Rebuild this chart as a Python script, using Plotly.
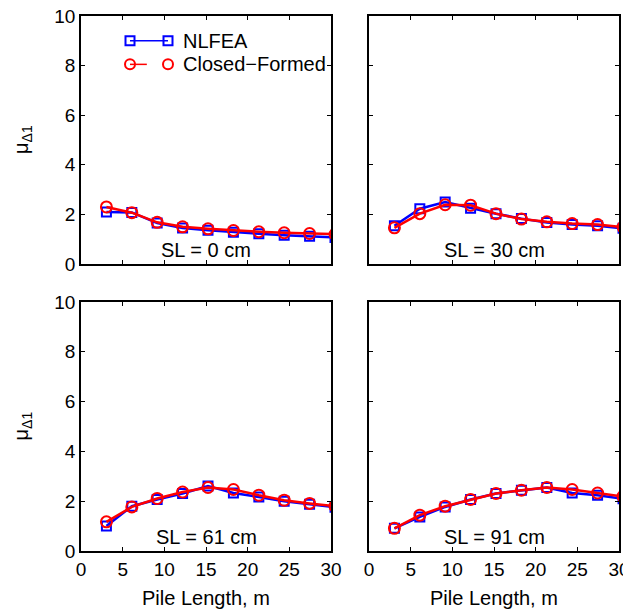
import plotly.graph_objects as go

pile_length = [3.05, 6.10, 9.14, 12.19, 15.24, 18.29, 21.34, 24.38, 27.43, 30.48]
panels = ["SL = 0 cm", "SL = 30 cm", "SL = 61 cm", "SL = 91 cm"]
nlfea = [
    [2.10, 2.08, 1.65, 1.45, 1.36, 1.28, 1.22, 1.16, 1.12, 1.07],
    [1.54, 2.23, 2.50, 2.25, 2.03, 1.83, 1.67, 1.59, 1.54, 1.44],
    [1.00, 1.80, 2.07, 2.31, 2.61, 2.33, 2.17, 2.00, 1.88, 1.76],
    [0.91, 1.37, 1.77, 2.07, 2.31, 2.44, 2.55, 2.33, 2.24, 2.10],
]
closed_formed = [
    [2.30, 2.07, 1.68, 1.50, 1.42, 1.35, 1.30, 1.26, 1.23, 1.20],
    [1.46, 2.03, 2.39, 2.37, 2.03, 1.81, 1.70, 1.63, 1.59, 1.49],
    [1.17, 1.77, 2.11, 2.37, 2.55, 2.47, 2.24, 2.04, 1.91, 1.80],
    [0.91, 1.44, 1.80, 2.07, 2.31, 2.44, 2.55, 2.47, 2.33, 2.19],
]
x_ticks = [0, 5, 10, 15, 20, 25, 30]
y_ticks = [0, 2, 4, 6, 8, 10]
x_title = "Pile Length, m"
y_title = "μ<sub>Δ1</sub>"

FONT = "Arial, Liberation Sans, Helvetica, sans-serif"
BLUE = "#0000ff"
RED = "#ff0000"

fig = go.Figure()

OFF = 8  # page body margin
W, H = 631 - OFF, 613 - OFF
# screen coordinates of plot area
SL, SR, ST, SB = 81, 619, 16, 551
ml, mt = SL - OFF, ST - OFF
mr, mb = (W + OFF) - SR, (H + OFF) - SB
pw = SR - SL
ph = SB - ST
lx = [(81, 331), (369, 619)]
ty = [(16, 264), (302, 551)]

def xdom(a, b):
    return [(a - SL) / pw, (b - SL) / pw]

def ydom(a, b):
    return [(SB - b) / ph, (SB - a) / ph]

def px(sx):
    return (sx - SL) / pw

def py(sy):
    return (SB - sy) / ph

TF = dict(family=FONT, size=19, color="black")
LF = dict(family=FONT, size=20, color="black")

for i in range(4):
    r, c = divmod(i, 2)
    sfx = "" if i == 0 else str(i + 1)
    xa = "x" + sfx
    ya = "y" + sfx
    fig.add_trace(go.Scatter(
        x=pile_length, y=nlfea[i], xaxis=xa, yaxis=ya, mode="lines+markers",
        line=dict(color=BLUE, width=2.5),
        marker=dict(symbol="square-open", size=9, color=BLUE, line=dict(width=2, color=BLUE)),
        showlegend=False))
    fig.add_trace(go.Scatter(
        x=pile_length, y=closed_formed[i], xaxis=xa, yaxis=ya, mode="lines+markers",
        line=dict(color=RED, width=2.5),
        marker=dict(symbol="circle-open", size=11, color=RED, line=dict(width=2, color=RED)),
        showlegend=False))
    axis_common = dict(
        showline=True, linecolor="black", linewidth=1.5, mirror="ticks",
        ticks="inside", ticklen=4, tickcolor="black", showgrid=False, zeroline=False,
        tickfont=TF, ticklabeloverflow="allow",
    )
    fig.layout["xaxis" + sfx] = dict(
        domain=xdom(*lx[c]), range=[0, 30], tickvals=x_ticks,
        showticklabels=(r == 1), anchor=ya, **axis_common)
    fig.layout["yaxis" + sfx] = dict(
        domain=ydom(*ty[r]), range=[0, 10], tickvals=y_ticks,
        showticklabels=(c == 0), anchor=xa, **axis_common)
    fig.add_annotation(x=15, y=0.55, xref=xa, yref=ya, text=panels[i], showarrow=False,
                       font=LF, xanchor="center", yanchor="middle")
    if c == 0:
        fig.add_annotation(x=px(22), y=py((ty[r][0] + ty[r][1]) / 2), xref="paper", yref="paper",
                           text=y_title, showarrow=False, textangle=-90, font=LF,
                           xanchor="center", yanchor="middle")
    if r == 1:
        fig.add_annotation(x=px((lx[c][0] + lx[c][1]) / 2), y=py(598), xref="paper", yref="paper",
                           text=x_title, showarrow=False, font=LF,
                           xanchor="center", yanchor="middle")

# legend samples in first panel
fig.add_trace(go.Scatter(x=[5.88, 10.44], y=[9.0, 9.0], mode="lines+markers",
                         line=dict(color=BLUE, width=1.5),
                         marker=dict(symbol="square-open", size=9, color=BLUE, line=dict(width=2, color=BLUE)),
                         showlegend=False, hoverinfo="skip"))
fig.add_trace(go.Scatter(x=[5.88, 7.9], y=[8.05, 8.05], mode="lines",
                         line=dict(color=RED, width=1.5), showlegend=False, hoverinfo="skip"))
fig.add_trace(go.Scatter(x=[5.88, 10.44], y=[8.05, 8.05], mode="markers",
                         marker=dict(symbol="circle-open", size=10, color=RED, line=dict(width=2, color=RED)),
                         showlegend=False, hoverinfo="skip"))
fig.add_annotation(x=12.0, y=9.0, xref="x", yref="y", text="NLFEA", showarrow=False,
                   xanchor="left", yanchor="middle", font=LF)
fig.add_annotation(x=12.0, y=8.05, xref="x", yref="y", text="Closed\u2212Formed", showarrow=False,
                   xanchor="left", yanchor="middle", font=LF)

fig.update_layout(
    width=W, height=H, margin=dict(l=ml, r=mr, t=mt, b=mb, autoexpand=False),
    paper_bgcolor="white", plot_bgcolor="white",
    font=dict(family=FONT, color="black"),
)

fig.write_html("out.html")
